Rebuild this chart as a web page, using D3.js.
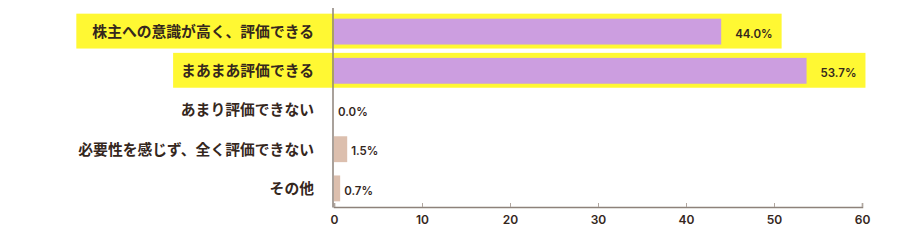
<!DOCTYPE html>
<meta charset="utf-8">
<head>
  <title>評価</title>
</head>
<style>
body { margin: 0; background: #fff; }
.label { font-family: "Noto Sans CJK JP", sans-serif; font-weight: 700; font-size: 14.8px; fill: #35271d; }
.value { font-family: "Inter", sans-serif; font-weight: 600; font-size: 11.5px; fill: #35271d; }
.tick text { font-family: "Inter", sans-serif; font-weight: 600; font-size: 12px; fill: #35271d; }
</style>
<body>
<svg width="897" height="240"></svg>
<script src="https://cdnjs.cloudflare.com/ajax/libs/d3/7.8.5/d3.min.js"></script>
<script>
var categories = ["株主への意識が高く、評価できる", "まあまあ評価できる", "あまり評価できない", "必要性を感じず、全く評価できない", "その他"];
var values = [44.0, 53.7, 0.0, 1.5, 0.7];
var highlighted = [true, true, false, false, false];
var xTicks = [0, 10, 20, 30, 40, 50, 60];

var svg = d3.select("svg");

var x = d3.scaleLinear().domain([0, 60]).range([334, 862]);
var y = d3.scaleBand().domain(categories).range([12, 208]).paddingInner(0.34).paddingOuter(0.17);

var rows = categories.map(function(c, i) { return {name: c, value: values[i], hi: highlighted[i]}; });

var hiLayer = svg.append("g");

// labels
var labels = svg.append("g").selectAll("text")
  .data(rows).enter().append("text")
  .attr("class", "label")
  .attr("x", 314)
  .attr("y", function(d) { return y(d.name) + y.bandwidth() / 2; })
  .attr("dy", "0.36em")
  .attr("text-anchor", "end")
  .text(function(d) { return d.name; });

// bars
svg.append("g").selectAll("rect")
  .data(rows).enter().append("rect")
  .attr("x", x(0))
  .attr("y", function(d) { return y(d.name); })
  .attr("width", function(d) { return x(d.value) - x(0); })
  .attr("height", y.bandwidth())
  .attr("fill", function(d) { return d.hi ? "#cc9ee0" : "#dcbfae"; });

// value labels
var vals = svg.append("g").selectAll("text")
  .data(rows).enter().append("text")
  .attr("class", "value")
  .attr("x", function(d) { return x(d.value) + (d.value > 10 ? 14 : 4); })
  .attr("y", function(d) { return y(d.name) + y.bandwidth() / 2 + 2; })
  .attr("dy", "0.36em")
  .text(function(d) { return d.value.toFixed(1) + "%"; });

// yellow highlight boxes behind highlighted rows
var padLeft = [16, 8];
rows.forEach(function(d, i) {
  if (!d.hi) return;
  var lb = labels.nodes()[i].getBBox();
  var vb = vals.nodes()[i].getBBox();
  var top = y(d.name) - 5;
  hiLayer.append("rect")
    .attr("x", lb.x - padLeft[i])
    .attr("y", top)
    .attr("width", vb.x + vb.width + 9 - (lb.x - padLeft[i]))
    .attr("height", y.bandwidth() + 9)
    .attr("fill", "#fff833");
});

// x axis
var axis = svg.append("g")
  .attr("transform", "translate(0,207)")
  .call(d3.axisBottom(x).tickValues(xTicks).tickSize(-4).tickPadding(8));
axis.select(".domain").attr("stroke", "#8d827a").attr("stroke-width", 1.5);
axis.selectAll(".tick line").attr("stroke", "#b0a69f");

// y axis line
svg.append("line")
  .attr("x1", x(0) - 1).attr("x2", x(0) - 1)
  .attr("y1", 8).attr("y2", 207.5)
  .attr("stroke", "#8d827a").attr("stroke-width", 1.5);
</script>
</body>
</html>
